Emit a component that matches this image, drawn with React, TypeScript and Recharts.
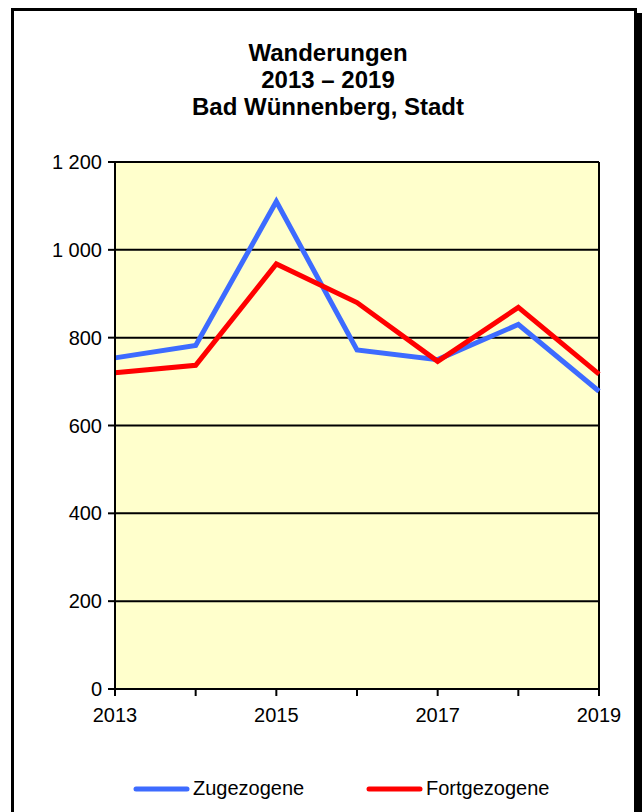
import React from "react";
import { LineChart, Line, XAxis, YAxis, CartesianGrid, ReferenceLine } from "recharts";

const years = [2013, 2014, 2015, 2016, 2017, 2018, 2019];
const zugezogene = [754, 782, 1110, 772, 750, 830, 678];
const fortgezogene = [720, 737, 968, 880, 746, 869, 717];
const yTicks = [0, 200, 400, 600, 800, 1000, 1200];
const titleLines = ["Wanderungen", "2013 – 2019", "Bad Wünnenberg, Stadt"];
const seriesNames = ["Zugezogene", "Fortgezogene"];

const data = years.map((y, i) => ({ year: y, zu: zugezogene[i], fort: fortgezogene[i] }));

const FONT = "'Liberation Sans', Arial, sans-serif";
const BLUE = "#3d6bff";
const RED = "#ff0000";

const fmt = (v: number) => (v >= 1000 ? `${Math.floor(v / 1000)} ${String(v % 1000).padStart(3, "0")}` : String(v));

export default function App() {
  return (
    <div style={{ position: "absolute", left: 0, top: 0, width: 643, height: 812, overflow: "hidden", background: "#fff", fontFamily: FONT }}>
      <div
        style={{
          position: "absolute",
          left: 11,
          top: 8,
          width: 620,
          height: 900,
          border: "3px solid #000",
          boxShadow: "5px 5px 0 #000",
          background: "#fff",
        }}
      />
      <div style={{ position: "absolute", left: 0, top: 39, width: 656, textAlign: "center", fontWeight: "bold", fontSize: 24, lineHeight: "27px", color: "#000" }}>
        {titleLines.map((t) => (
          <div key={t}>{t}</div>
        ))}
      </div>
      <div style={{ position: "absolute", left: 0, top: 0 }}>
        <LineChart width={643} height={812} data={data} margin={{ top: 162, right: 44, bottom: 93, left: 0 }}>
          <CartesianGrid vertical={false} stroke="#000" strokeWidth={2} fill="#ffffcc" fillOpacity={1} />
          <XAxis
            dataKey="year"
            type="number"
            domain={[2013, 2019]}
            ticks={years}
            tickFormatter={(v: number) => (v % 2 === 1 ? String(v) : "")}
            axisLine={{ stroke: "#000", strokeWidth: 2 }}
            tickLine={{ stroke: "#000", strokeWidth: 2 }}
            tickSize={7}
            tickMargin={12}
            height={30}
            interval={0}
            tick={{ fill: "#000", fontSize: 20, fontFamily: FONT }}
          />
          <YAxis
            domain={[0, 1200]}
            ticks={yTicks}
            tickFormatter={fmt}
            axisLine={{ stroke: "#000", strokeWidth: 2 }}
            tickLine={{ stroke: "#000", strokeWidth: 2 }}
            tickSize={7}
            tickMargin={6}
            width={115}
            interval={0}
            tick={{ fill: "#000", fontSize: 20, fontFamily: FONT }}
          />
          <ReferenceLine x={2019} stroke="#000" strokeWidth={2} />
          <Line type="linear" dataKey="zu" stroke={BLUE} strokeWidth={5} dot={false} isAnimationActive={false} />
          <Line type="linear" dataKey="fort" stroke={RED} strokeWidth={5} dot={false} isAnimationActive={false} />
        </LineChart>
      </div>
      <svg style={{ position: "absolute", left: 0, top: 770 }} width={643} height={42}>
        <line x1={136} y1={19} x2={187} y2={19} stroke={BLUE} strokeWidth={5} strokeLinecap="round" />
        <text x={193} y={25} fontSize={20} fontFamily={FONT} fill="#000">{seriesNames[0]}</text>
        <line x1={369} y1={19} x2={420} y2={19} stroke={RED} strokeWidth={5} strokeLinecap="round" />
        <text x={426} y={25} fontSize={20} fontFamily={FONT} fill="#000">{seriesNames[1]}</text>
      </svg>
    </div>
  );
}
